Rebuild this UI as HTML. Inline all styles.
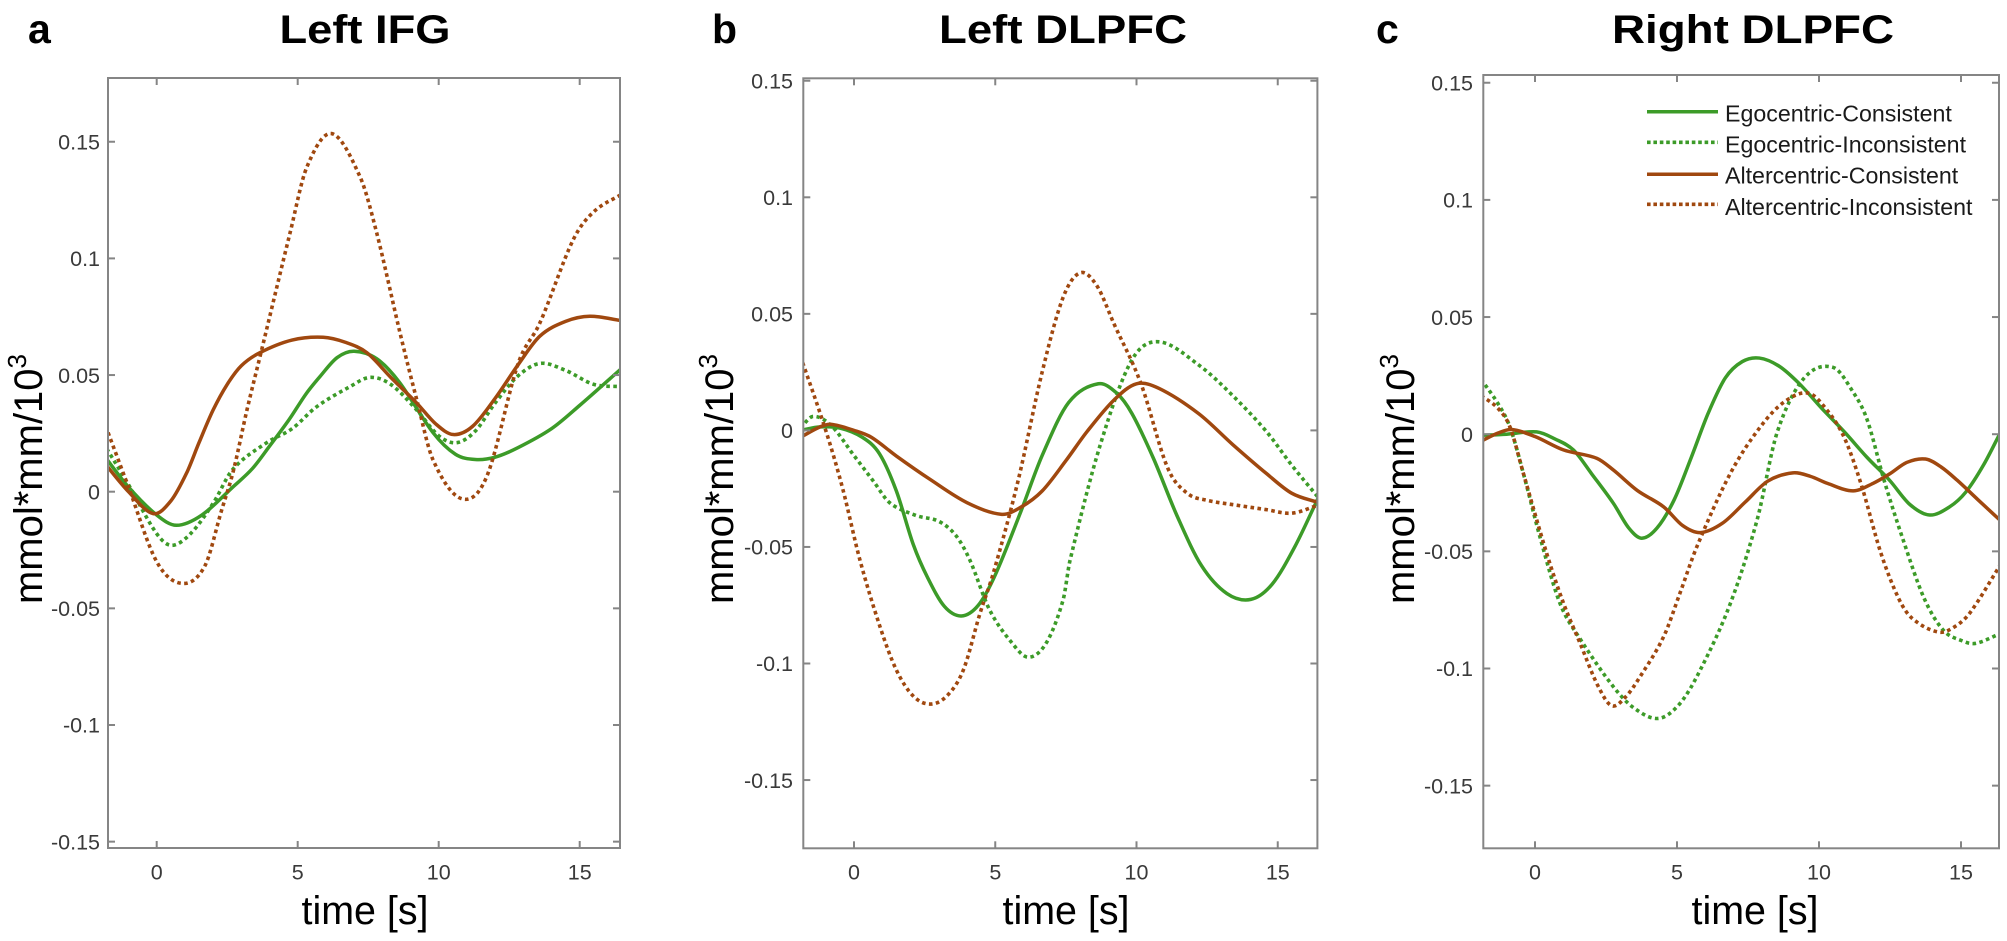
<!DOCTYPE html>
<html><head><meta charset="utf-8">
<style>
html,body{margin:0;padding:0;background:#fff;}
svg{display:block;}
text{font-family:"Liberation Sans",Arial,sans-serif;}
</style></head>
<body>
<svg id="s" width="2007" height="941" viewBox="0 0 2007 941" xmlns="http://www.w3.org/2000/svg">
<rect width="2007" height="941" fill="#fff"/>
<defs>
<clipPath id="ca"><rect x="108" y="78" width="512" height="770"/></clipPath>
<clipPath id="cb"><rect x="803.3" y="78.3" width="514.1" height="770"/></clipPath>
<clipPath id="cc"><rect x="1483.3" y="75" width="515.7" height="773.3"/></clipPath>
</defs>
<g id="curves"></g>
<g id="axes"></g>

<!-- panel letters & titles -->
<text x="28" y="43" font-size="41" font-weight="bold" fill="#000">a</text>
<text x="712" y="43" font-size="41" font-weight="bold" fill="#000">b</text>
<text x="1376" y="43" font-size="41" font-weight="bold" fill="#000">c</text>
<text x="365" y="43" font-size="40" font-weight="bold" text-anchor="middle" textLength="171" lengthAdjust="spacingAndGlyphs" fill="#000">Left IFG</text>
<text x="1063" y="43" font-size="40" font-weight="bold" text-anchor="middle" textLength="248" lengthAdjust="spacingAndGlyphs" fill="#000">Left DLPFC</text>
<text x="1753" y="43" font-size="40" font-weight="bold" text-anchor="middle" textLength="282" lengthAdjust="spacingAndGlyphs" fill="#000">Right DLPFC</text>

<!-- y axis labels -->
<text transform="translate(42,479) rotate(-90)" text-anchor="middle" font-size="40" fill="#000">mmol*mm/10<tspan font-size="26" dy="-16">3</tspan></text>
<text transform="translate(733,479) rotate(-90)" text-anchor="middle" font-size="40" fill="#000">mmol*mm/10<tspan font-size="26" dy="-16">3</tspan></text>
<text transform="translate(1414,479) rotate(-90)" text-anchor="middle" font-size="40" fill="#000">mmol*mm/10<tspan font-size="26" dy="-16">3</tspan></text>

<!-- x axis labels -->
<text x="365" y="924" font-size="40" text-anchor="middle" textLength="127" lengthAdjust="spacingAndGlyphs" fill="#000">time [s]</text>
<text x="1066" y="924" font-size="40" text-anchor="middle" textLength="127" lengthAdjust="spacingAndGlyphs" fill="#000">time [s]</text>
<text x="1755" y="924" font-size="40" text-anchor="middle" textLength="127" lengthAdjust="spacingAndGlyphs" fill="#000">time [s]</text>

<!-- tick labels panel a -->
<g font-size="21.5" fill="#3a3a3a" text-anchor="end">
<text x="100" y="149.5">0.15</text>
<text x="100" y="266.1">0.1</text>
<text x="100" y="382.8">0.05</text>
<text x="100" y="499.4">0</text>
<text x="100" y="616.1">-0.05</text>
<text x="100" y="732.7">-0.1</text>
<text x="100" y="849.4">-0.15</text>
</g>
<g font-size="21.5" fill="#3a3a3a" text-anchor="middle">
<text x="156.7" y="879.5">0</text>
<text x="297.7" y="879.5">5</text>
<text x="438.7" y="879.5">10</text>
<text x="579.7" y="879.5">15</text>
</g>
<!-- tick labels panel b -->
<g font-size="21.5" fill="#3a3a3a" text-anchor="end">
<text x="793" y="88.5">0.15</text>
<text x="793" y="205">0.1</text>
<text x="793" y="321.6">0.05</text>
<text x="793" y="438.1">0</text>
<text x="793" y="554.7">-0.05</text>
<text x="793" y="671.2">-0.1</text>
<text x="793" y="787.8">-0.15</text>
</g>
<g font-size="21.5" fill="#3a3a3a" text-anchor="middle">
<text x="854" y="879.5">0</text>
<text x="995.3" y="879.5">5</text>
<text x="1136.5" y="879.5">10</text>
<text x="1277.8" y="879.5">15</text>
</g>
<!-- tick labels panel c -->
<g font-size="21.5" fill="#3a3a3a" text-anchor="end">
<text x="1473" y="90.5">0.15</text>
<text x="1473" y="207.6">0.1</text>
<text x="1473" y="324.8">0.05</text>
<text x="1473" y="441.9">0</text>
<text x="1473" y="559.1">-0.05</text>
<text x="1473" y="676.2">-0.1</text>
<text x="1473" y="793.4">-0.15</text>
</g>
<g font-size="21.5" fill="#3a3a3a" text-anchor="middle">
<text x="1535" y="879.5">0</text>
<text x="1677" y="879.5">5</text>
<text x="1819" y="879.5">10</text>
<text x="1961" y="879.5">15</text>
</g>

<!-- legend -->
<g>
<line x1="1647" y1="111.7" x2="1718" y2="111.7" stroke="#3c9b28" stroke-width="3.5"/>
<line x1="1647" y1="142.3" x2="1718" y2="142.3" stroke="#3c9b28" stroke-width="3.6" stroke-dasharray="3.6 2.8"/>
<line x1="1647" y1="174.3" x2="1718" y2="174.3" stroke="#a0480f" stroke-width="3.5"/>
<line x1="1647" y1="204.3" x2="1718" y2="204.3" stroke="#a0480f" stroke-width="3.6" stroke-dasharray="3.6 2.8"/>
<g font-size="23.2" fill="#1a1a1a">
<text x="1725" y="121.7">Egocentric-Consistent</text>
<text x="1725" y="152.3">Egocentric-Inconsistent</text>
<text x="1725" y="183.3">Altercentric-Consistent</text>
<text x="1725" y="215">Altercentric-Inconsistent</text>
</g>
</g>
</svg>
<script>
(function(){
var G='#3c9b28', B='#a0480f';
var P=[
 {clip:'ca',L:108,R:620,T:78,Bm:848,x0:156.7,xs:28.2,y0:491.7,ys:2333,
  gs:[[-1.9,0.016],[-1.0,0.002],[0,-0.010],[0.7,-0.0144],[1.6,-0.010],[2.7,0.002],[3.4,0.010],[4.0,0.0195],[4.7,0.031],[5.3,0.042],[5.8,0.0495],[6.4,0.0575],[7.0,0.0602],[7.8,0.057],[8.6,0.047],[9.8,0.0253],[10.6,0.016],[11.3,0.0138],[12.0,0.0148],[12.8,0.0188],[14,0.027],[15,0.037],[16.5,0.053]],
  gd:[[-1.9,0.021],[-1,0.003],[0,-0.018],[0.53,-0.023],[1.2,-0.018],[2.0,-0.005],[2.7,0.0096],[3.9,0.021],[4.8,0.027],[5.67,0.0364],[6.85,0.045],[7.56,0.049],[8.3,0.046],[9.2,0.0353],[10.0,0.024],[10.64,0.021],[11.3,0.026],[12.0,0.038],[12.8,0.0495],[13.6,0.055],[14.5,0.052],[15.5,0.046],[16.5,0.045]],
  bs:[[-1.9,0.013],[-1,0.0],[-0.12,-0.0094],[0.5,-0.004],[1.06,0.008],[1.5,0.021],[2.0,0.035],[2.5,0.046],[3.0,0.054],[3.66,0.0596],[4.8,0.065],[5.9,0.0662],[6.7,0.064],[7.45,0.0596],[8.3,0.049],[9.22,0.038],[9.9,0.029],[10.52,0.0245],[11.2,0.028],[12.0,0.04],[12.82,0.0545],[13.59,0.0667],[14.5,0.073],[15.36,0.0752],[16.5,0.0733]],
  bd:[[-1.9,0.031],[-1,0.002],[0,-0.03],[0.89,-0.0393],[1.7,-0.032],[2.3,-0.008],[2.72,0.009],[3.2,0.035],[3.72,0.0607],[4.73,0.111],[5.32,0.139],[6.2,0.1535],[7.21,0.135],[7.8,0.111],[8.63,0.068],[9.22,0.0395],[9.8,0.0136],[10.81,-0.003],[11.7,0.0064],[12.82,0.055],[13.59,0.0724],[14.77,0.108],[15.5,0.12],[16.5,0.1276]]},
 {clip:'cb',L:803.3,R:1317.4,T:78.3,Bm:848.3,x0:854,xs:28.25,y0:430.4,ys:2331,
  gs:[[-1.9,0.0],[-1.2,0.0015],[-0.5,0.001],[0.3,-0.003],[0.9,-0.010],[1.5,-0.026],[2.1,-0.049],[2.6,-0.063],[3.2,-0.0755],[3.8,-0.0796],[4.4,-0.075],[5.0,-0.062],[5.9,-0.035],[6.66,-0.0108],[7.6,0.012],[8.65,0.020],[9.3,0.016],[9.84,0.0072],[10.6,-0.012],[11.43,-0.0365],[12.3,-0.058],[13.2,-0.07],[14.05,-0.0725],[14.8,-0.066],[15.6,-0.05],[16.45,-0.0285]],
  gd:[[-1.9,0.001],[-1.45,0.006],[-0.8,0.002],[0,-0.0108],[0.7,-0.022],[1.26,-0.031],[2.2,-0.0365],[3.0,-0.039],[3.6,-0.045],[4.1,-0.0556],[4.8,-0.077],[5.6,-0.0913],[6.17,-0.0973],[6.8,-0.0913],[7.4,-0.0728],[7.65,-0.0556],[8.73,-0.0057],[9.84,0.0303],[10.8,0.038],[12.23,0.0278],[13.4,0.015],[14.6,-0.0005],[15.5,-0.015],[16.45,-0.029]],
  bs:[[-1.9,-0.003],[-1.2,0.0015],[-0.8,0.0026],[0,0.0],[0.62,-0.003],[1.5,-0.011],[2.69,-0.021],[4.0,-0.031],[5.23,-0.036],[5.9,-0.033],[6.66,-0.026],[7.5,-0.013],[8.25,-0.0005],[9.2,0.013],[10.0,0.020],[10.8,0.018],[12.2,0.0072],[13.4,-0.006],[14.6,-0.0185],[15.5,-0.027],[16.45,-0.031]],
  bd:[[-1.9,0.032],[-1.0,0.0],[-0.4,-0.025],[0.21,-0.0556],[0.92,-0.0842],[1.5,-0.1028],[2.1,-0.114],[2.69,-0.1174],[3.28,-0.114],[3.87,-0.1028],[4.46,-0.0785],[4.93,-0.0613],[5.8,-0.022],[6.66,0.025],[7.4,0.057],[8.01,0.0676],[8.6,0.062],[9.2,0.0458],[10.16,0.020],[11.1,-0.016],[11.8,-0.027],[12.5,-0.030],[13.5,-0.032],[14.6,-0.034],[15.5,-0.0355],[16.45,-0.032]]},
 {clip:'cc',L:1483.3,R:1999,T:75,Bm:848.3,x0:1535,xs:28.4,y0:434.2,ys:2343,
  gs:[[-1.9,-0.0005],[-1.0,0.0],[0.06,0.001],[0.7,-0.002],[1.35,-0.0067],[2.0,-0.017],[2.76,-0.0295],[3.3,-0.040],[3.76,-0.0444],[4.3,-0.040],[4.9,-0.028],[5.5,-0.010],[6.1,0.009],[6.7,0.024],[7.3,0.031],[7.9,0.0325],[8.6,0.029],[9.32,0.0214],[10.1,0.011],[10.9,0.0009],[11.7,-0.01],[12.48,-0.0196],[13.2,-0.03],[13.9,-0.0345],[14.6,-0.031],[15.17,-0.0247],[15.8,-0.013],[16.4,0.001]],
  gd:[[-1.9,0.0235],[-1.3,0.013],[-0.88,0.003],[-0.41,-0.0167],[0.2,-0.045],[0.88,-0.0722],[1.59,-0.0874],[2.76,-0.1078],[3.5,-0.117],[4.35,-0.1213],[5.1,-0.115],[5.82,-0.1006],[6.88,-0.0722],[7.82,-0.0366],[8.53,0.0009],[9.48,0.024],[10.5,0.0285],[11.2,0.018],[11.7,0.006],[12.3,-0.02],[12.96,-0.045],[13.7,-0.07],[14.38,-0.0837],[15.0,-0.088],[15.5,-0.0893],[16.4,-0.085]],
  bs:[[-1.9,-0.003],[-1.3,0.0005],[-0.82,0.002],[0,-0.001],[1.0,-0.0067],[2.18,-0.0103],[2.76,-0.0153],[3.6,-0.024],[4.53,-0.031],[5.2,-0.039],[5.82,-0.042],[6.6,-0.038],[7.4,-0.029],[8.2,-0.020],[9.08,-0.0165],[9.7,-0.018],[10.3,-0.021],[11.2,-0.0242],[11.9,-0.021],[12.48,-0.017],[13.1,-0.012],[13.75,-0.0106],[14.3,-0.014],[14.86,-0.0196],[15.6,-0.028],[16.4,-0.037]],
  bd:[[-1.9,0.0165],[-1.3,0.011],[-0.88,0.003],[-0.41,-0.0167],[0.41,-0.0508],[1.0,-0.072],[1.59,-0.0893],[2.2,-0.107],[2.7,-0.1159],[3.2,-0.112],[3.7,-0.1035],[4.53,-0.0864],[5.1,-0.068],[5.7,-0.048],[6.88,-0.0167],[7.94,0.0032],[8.8,0.014],[9.64,0.0175],[10.3,0.01],[10.9,-0.0017],[11.5,-0.022],[12.17,-0.0504],[12.8,-0.07],[13.28,-0.0786],[14.22,-0.0845],[14.8,-0.082],[15.33,-0.076],[16.4,-0.0555]]}
];
function f(n){return n.toFixed(2);}
function mkPath(p,data){
  var pts=data.map(function(d){return [p.x0+p.xs*d[0], p.y0-p.ys*d[1]];});
  var n=pts.length, m=[];
  for(var i=0;i<n;i++){
    var a=pts[Math.max(i-1,0)], b=pts[Math.min(i+1,n-1)];
    m.push((b[1]-a[1])/(b[0]-a[0]));
  }
  var d='M'+f(pts[0][0])+','+f(pts[0][1]);
  for(var i=0;i<n-1;i++){
    var dx=(pts[i+1][0]-pts[i][0])/3;
    d+='C'+f(pts[i][0]+dx)+','+f(pts[i][1]+m[i]*dx)+' '+f(pts[i+1][0]-dx)+','+f(pts[i+1][1]-m[i+1]*dx)+' '+f(pts[i+1][0])+','+f(pts[i+1][1]);
  }
  return d;
}
var NS='http://www.w3.org/2000/svg';
var cg=document.getElementById('curves'), ag=document.getElementById('axes');
function el(tag,attrs,parent){var e=document.createElementNS(NS,tag);for(var k in attrs)e.setAttribute(k,attrs[k]);parent.appendChild(e);return e;}
P.forEach(function(p){
  var g=el('g',{'clip-path':'url(#'+p.clip+')',fill:'none'},cg);
  el('path',{d:mkPath(p,p.gs),stroke:G,'stroke-width':3.5,'stroke-linejoin':'round'},g);
  el('path',{d:mkPath(p,p.gd),stroke:G,'stroke-width':3.6,'stroke-dasharray':'3.6 3.4'},g);
  el('path',{d:mkPath(p,p.bs),stroke:B,'stroke-width':3.5,'stroke-linejoin':'round'},g);
  el('path',{d:mkPath(p,p.bd),stroke:B,'stroke-width':3.6,'stroke-dasharray':'3.6 3.4'},g);
  var ax=el('g',{stroke:'#858585','stroke-width':2,fill:'none'},ag);
  el('rect',{x:p.L,y:p.T,width:p.R-p.L,height:p.Bm-p.T},ax);
  [-0.15,-0.1,-0.05,0,0.05,0.1,0.15].forEach(function(v){
    var y=p.y0-p.ys*v;
    if(y<p.T||y>p.Bm)return;
    el('line',{x1:p.L,y1:y,x2:p.L+7,y2:y},ax);
    el('line',{x1:p.R,y1:y,x2:p.R-7,y2:y},ax);
  });
  [0,5,10,15].forEach(function(t){
    var x=p.x0+p.xs*t;
    el('line',{x1:x,y1:p.Bm,x2:x,y2:p.Bm-7},ax);
    el('line',{x1:x,y1:p.T,x2:x,y2:p.T+7},ax);
  });
});
})();
</script>
</body></html>
